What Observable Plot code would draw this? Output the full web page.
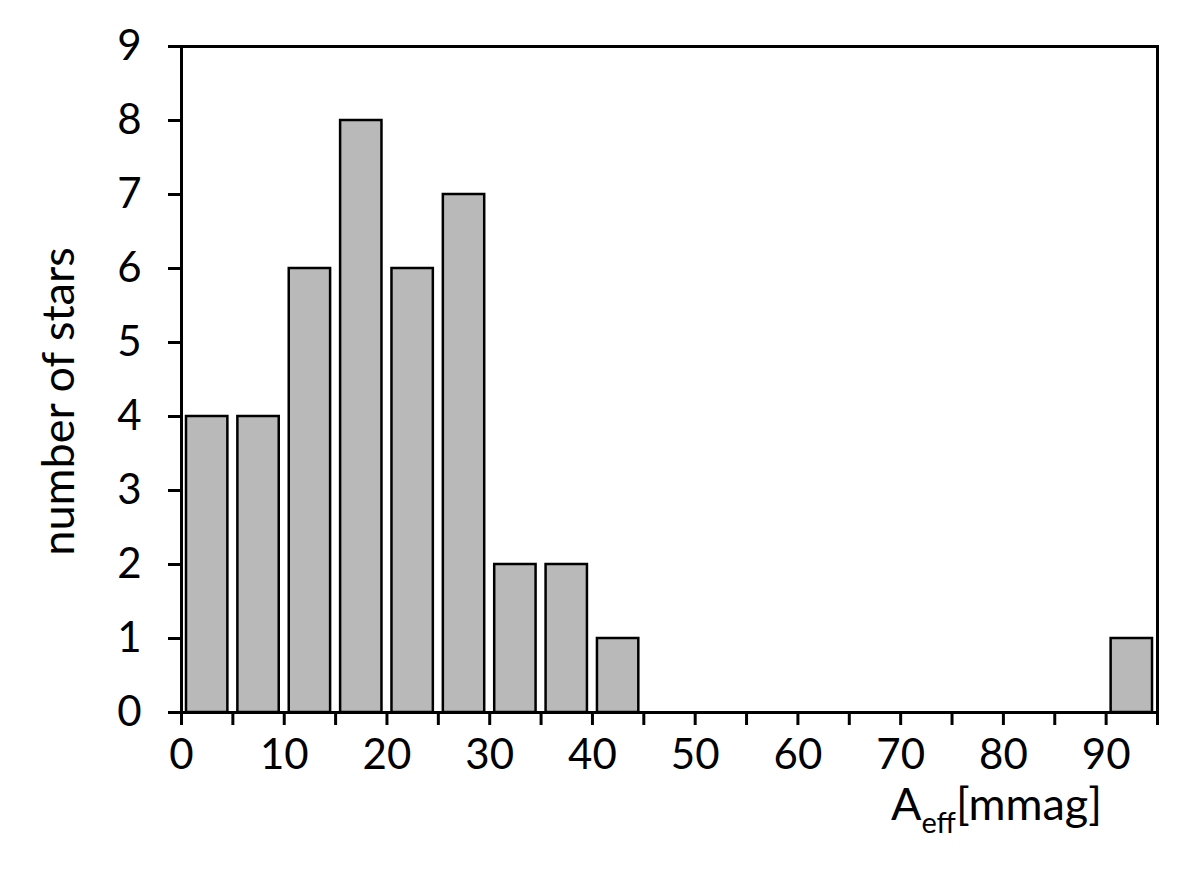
<!DOCTYPE html>
<html><head><meta charset="utf-8">
<script src="https://cdn.jsdelivr.net/npm/d3@7"></script>
<script src="https://cdn.jsdelivr.net/npm/@observablehq/plot@0.6"></script>
<style>body{margin:0;background:#fff}</style>
</head><body><div id="chart"></div>
<script>
// Histogram data: bin start values (width 5 mmag) and star counts
const binStart = [0,5,10,15,20,25,30,35,40,45,50,55,60,65,70,75,80,85,90];
const binWidth = 5;
const counts   = [4,4,6,8,6,7,2,2,1,0,0,0,0,0,0,0,0,0,1];
const xTicks = [0,5,10,15,20,25,30,35,40,45,50,55,60,65,70,75,80,85,90,95];
const xLabelTicks = [0,10,20,30,40,50,60,70,80,90];
const yTicks = [0,1,2,3,4,5,6,7,8,9];
const xLabelMain = "A", xLabelSub = "eff", xLabelRest = "[mmag]";
const yLabel = "number of stars";

const data = binStart.map((s, i) => ({x1: s, x2: s + binWidth, y: counts[i]})).filter(d => d.y > 0);

const W = 1200, H = 870, mL = 181, mR = 43, mT = 46, mB = 158;
const FONT = "Lato";
const TICK_FS = 42, LABEL_FS = 45;

const plot = Plot.plot({
  width: W, height: H,
  marginLeft: mL, marginRight: mR, marginTop: mT, marginBottom: mB,
  style: {fontFamily: FONT, fontSize: TICK_FS + "px", color: "#000", background: "#fff", overflow: "visible"},
  x: {domain: [0, 95]},
  y: {domain: [0, 9]},
  marks: [
    Plot.rectY(data, {x1: "x1", x2: "x2", y: "y", fill: "#b9b9b9", stroke: "#000", strokeWidth: 2.5, insetLeft: 5, insetRight: 5}),
    Plot.frame({stroke: "#000", strokeWidth: 3}),
    Plot.axisX({ticks: xTicks, tickFormat: null, text: null, tickSize: 13, strokeWidth: 3, label: null}),
    Plot.axisX({ticks: xLabelTicks, tickSize: 13, tickPadding: 14, stroke: null, label: null, fontSize: TICK_FS}),
    Plot.axisY({ticks: yTicks, tickSize: 13, tickPadding: 27, strokeWidth: 3, label: null, fontSize: TICK_FS}),
    Plot.text([yLabel], {frameAnchor: "left", textAnchor: "middle", rotate: -90, dx: -122, dy: 22, fontSize: LABEL_FS, fill: "#000"})
  ]
});
document.getElementById("chart").appendChild(plot);

// x-axis label with subscript
const svg = d3.select(plot);
const t = svg.append("text")
  .attr("x", W - mR - 55)
  .attr("y", H - mB + 108)
  .attr("text-anchor", "end")
  .attr("font-family", FONT)
  .attr("font-size", LABEL_FS)
  .attr("fill", "#000");
t.append("tspan").text(xLabelMain);
t.append("tspan").attr("font-size", 29).attr("dy", 13).text(xLabelSub);
t.append("tspan").attr("dy", -13).text(xLabelRest);
</script>
</body></html>
